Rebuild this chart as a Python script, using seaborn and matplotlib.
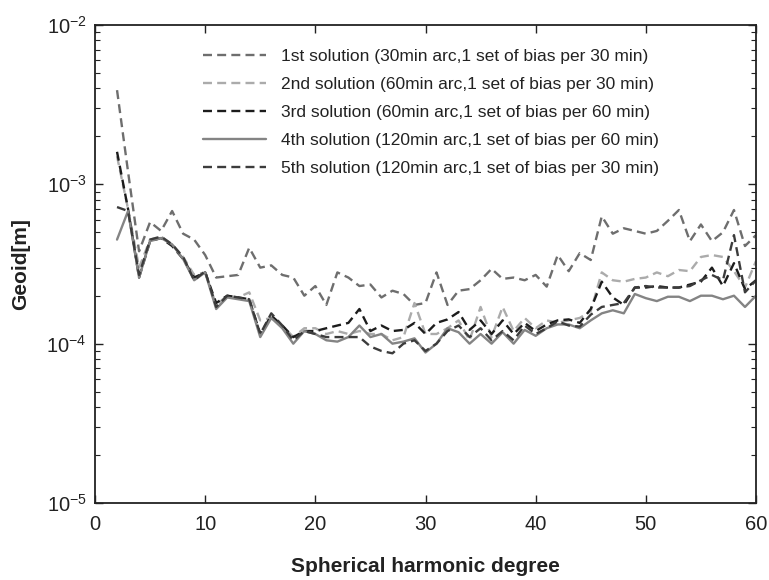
import numpy as np
import pandas as pd
import matplotlib
matplotlib.use("Agg")
import matplotlib.pyplot as plt
import seaborn as sns

degrees = list(range(2, 61))

sol1 = [3.9e-3, 1.2e-3, 3.8e-4, 5.8e-4, 5.1e-4, 6.8e-4, 4.9e-4, 4.5e-4, 3.6e-4, 2.6e-4,
        2.65e-4, 2.7e-4, 4.0e-4, 3.0e-4, 3.1e-4, 2.7e-4, 2.6e-4, 2.0e-4, 2.3e-4, 1.75e-4,
        2.8e-4, 2.6e-4, 2.3e-4, 2.35e-4, 1.95e-4, 2.15e-4, 2.05e-4, 1.75e-4, 1.8e-4, 2.8e-4,
        1.75e-4, 2.15e-4, 2.2e-4, 2.5e-4, 2.95e-4, 2.55e-4, 2.6e-4, 2.5e-4, 2.7e-4, 2.28e-4,
        3.6e-4, 2.85e-4, 3.7e-4, 3.35e-4, 6.3e-4, 4.9e-4, 5.3e-4, 5.1e-4, 4.9e-4, 5.1e-4,
        5.9e-4, 6.9e-4, 4.4e-4, 5.6e-4, 4.4e-4, 5.0e-4, 6.9e-4, 4.1e-4, 4.8e-4]

sol2 = [1.5e-3, 7.0e-4, 3.0e-4, 4.5e-4, 4.7e-4, 4.2e-4, 3.5e-4, 2.7e-4, 2.8e-4, 1.75e-4,
        2.0e-4, 1.95e-4, 2.1e-4, 1.4e-4, 1.45e-4, 1.3e-4, 1.1e-4, 1.25e-4, 1.25e-4, 1.15e-4,
        1.2e-4, 1.15e-4, 1.2e-4, 1.15e-4, 1.15e-4, 1.05e-4, 1.1e-4, 1.8e-4, 1.15e-4, 1.15e-4,
        1.25e-4, 1.4e-4, 1.05e-4, 1.7e-4, 1.1e-4, 1.7e-4, 1.2e-4, 1.45e-4, 1.25e-4, 1.4e-4,
        1.35e-4, 1.4e-4, 1.45e-4, 1.6e-4, 2.8e-4, 2.5e-4, 2.45e-4, 2.55e-4, 2.6e-4, 2.8e-4,
        2.65e-4, 2.9e-4, 2.85e-4, 3.5e-4, 3.6e-4, 3.5e-4, 2.85e-4, 2.25e-4, 3.3e-4]

sol3 = [1.6e-3, 7.0e-4, 2.6e-4, 4.4e-4, 4.6e-4, 4.1e-4, 3.4e-4, 2.6e-4, 2.8e-4, 1.8e-4,
        2.0e-4, 1.95e-4, 1.9e-4, 1.15e-4, 1.5e-4, 1.3e-4, 1.1e-4, 1.2e-4, 1.2e-4, 1.25e-4,
        1.3e-4, 1.35e-4, 1.65e-4, 1.2e-4, 1.3e-4, 1.2e-4, 1.22e-4, 1.35e-4, 1.15e-4, 1.35e-4,
        1.42e-4, 1.58e-4, 1.22e-4, 1.4e-4, 1.15e-4, 1.4e-4, 1.15e-4, 1.35e-4, 1.2e-4, 1.32e-4,
        1.4e-4, 1.42e-4, 1.35e-4, 1.65e-4, 2.45e-4, 1.95e-4, 1.75e-4, 2.25e-4, 2.25e-4, 2.3e-4,
        2.25e-4, 2.25e-4, 2.35e-4, 2.45e-4, 3.0e-4, 2.3e-4, 3.2e-4, 2.2e-4, 2.5e-4]

sol4 = [4.5e-4, 6.8e-4, 2.6e-4, 4.4e-4, 4.6e-4, 4.2e-4, 3.4e-4, 2.5e-4, 2.8e-4, 1.65e-4,
        1.95e-4, 1.9e-4, 1.85e-4, 1.1e-4, 1.45e-4, 1.25e-4, 1.0e-4, 1.2e-4, 1.15e-4, 1.05e-4,
        1.03e-4, 1.1e-4, 1.3e-4, 1.1e-4, 1.15e-4, 1.0e-4, 1.03e-4, 1.08e-4, 8.8e-5, 1.0e-4,
        1.25e-4, 1.18e-4, 1.0e-4, 1.15e-4, 1.0e-4, 1.18e-4, 1.0e-4, 1.22e-4, 1.12e-4, 1.25e-4,
        1.32e-4, 1.32e-4, 1.25e-4, 1.4e-4, 1.55e-4, 1.62e-4, 1.55e-4, 2.05e-4, 1.93e-4, 1.85e-4,
        1.97e-4, 1.97e-4, 1.85e-4, 2.0e-4, 2.0e-4, 1.9e-4, 2.0e-4, 1.7e-4, 2.0e-4]

sol5 = [7.2e-4, 6.8e-4, 2.7e-4, 4.5e-4, 4.7e-4, 4.2e-4, 3.5e-4, 2.5e-4, 2.85e-4, 1.7e-4,
        2.0e-4, 1.95e-4, 1.9e-4, 1.15e-4, 1.55e-4, 1.3e-4, 1.05e-4, 1.2e-4, 1.15e-4, 1.1e-4,
        1.1e-4, 1.1e-4, 1.1e-4, 9.6e-5, 9.0e-5, 8.7e-5, 1.0e-4, 1.05e-4, 9.0e-5, 1.0e-4,
        1.2e-4, 1.3e-4, 1.1e-4, 1.25e-4, 1.05e-4, 1.2e-4, 1.05e-4, 1.3e-4, 1.15e-4, 1.25e-4,
        1.38e-4, 1.3e-4, 1.28e-4, 1.52e-4, 1.7e-4, 1.75e-4, 1.8e-4, 2.25e-4, 2.3e-4, 2.25e-4,
        2.25e-4, 2.25e-4, 2.3e-4, 2.5e-4, 2.7e-4, 2.5e-4, 4.8e-4, 2.1e-4, 2.5e-4]

labels = [
    "1st solution (30min arc,1 set of bias per 30 min)",
    "2nd solution (60min arc,1 set of bias per 30 min)",
    "3rd solution (60min arc,1 set of bias per 60 min)",
    "4th solution (120min arc,1 set of bias per 60 min)",
    "5th solution (120min arc,1 set of bias per 30 min)",
]
series = [sol1, sol2, sol3, sol4, sol5]
colors = ["#6e6e6e", "#ababab", "#1c1c1c", "#848484", "#3c3c3c"]
dashed = [True, True, True, False, True]

sns.set_theme(style="ticks")
plt.rcParams["font.family"] = ["Liberation Sans", "DejaVu Sans"]

fig = plt.figure(figsize=(7.69, 5.8), dpi=100)
ax = fig.add_axes([95 / 769, 1 - 503 / 580, 661 / 769, 478 / 580])

for vals, lab, col, dsh in zip(series, labels, colors, dashed):
    df = pd.DataFrame({"degree": degrees, "value": vals})
    sns.lineplot(data=df, x="degree", y="value", ax=ax, color=col,
                 linewidth=1.7, label=lab)
    l = ax.get_lines()[-1]
    if dsh:
        l.set_dashes((3.8, 2.2))

ax.set_yscale("log")
ax.set_xlim(0, 60)
ax.set_ylim(1e-5, 1e-2)
ax.set_xticks([0, 10, 20, 30, 40, 50, 60])
ax.set_yticks([1e-5, 1e-4, 1e-3, 1e-2])

ax.tick_params(axis="both", which="both", direction="in", top=True, right=True,
               colors="#222222", labelcolor="#222222")
ax.tick_params(axis="both", which="major", length=6, width=1.0, labelsize=14.5)
ax.tick_params(axis="x", which="major", pad=9)
ax.tick_params(axis="y", which="major", pad=6)
ax.tick_params(axis="both", which="minor", length=3.5, width=0.8)
for sp in ax.spines.values():
    sp.set_linewidth(1.3)
    sp.set_color("#222222")

ax.set_xlabel("Spherical harmonic degree", fontsize=15, fontweight="bold",
              color="#222222", labelpad=16)
ax.set_ylabel("Geoid[m]", fontsize=15, fontweight="bold", color="#222222", labelpad=12)

leg = ax.legend(loc="upper left", bbox_to_anchor=(0.14, 0.982), frameon=False,
                fontsize=12.5, handlelength=3.6, handletextpad=0.9, labelspacing=0.73)
for t in leg.get_texts():
    t.set_color("#222222")

fig.savefig("out.png", dpi=100)
